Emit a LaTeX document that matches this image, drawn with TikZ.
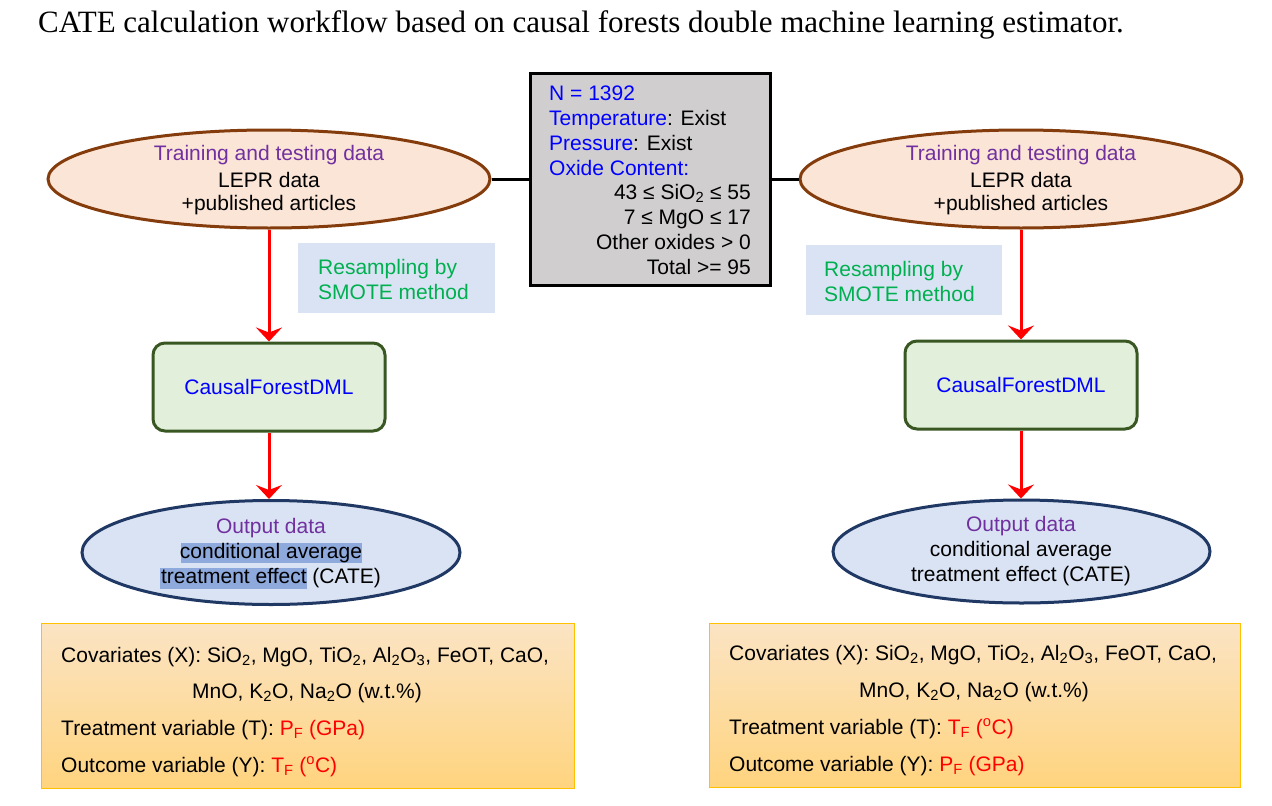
\documentclass[tikz,border=0pt]{standalone}
\usepackage{fontspec}
\setmainfont{Liberation Sans}
\newfontfamily\titlefont{Liberation Serif}
\usetikzlibrary{shapes.geometric,arrows.meta}
\definecolor{purp}{HTML}{7030A0}
\definecolor{grn}{HTML}{00B050}
\definecolor{bl}{RGB}{0,0,255}
\definecolor{rd}{RGB}{255,0,0}
\definecolor{peach}{HTML}{FBE5D6}
\definecolor{brown}{HTML}{843C0C}
\definecolor{ltblue}{HTML}{DAE3F3}
\definecolor{navy}{HTML}{203864}
\definecolor{ltgreen}{HTML}{E2EFDA}
\definecolor{dkgreen}{HTML}{385723}
\definecolor{grayfill}{HTML}{D0CECE}
\definecolor{ortop}{HTML}{FBE4C4}
\definecolor{orbot}{HTML}{FFD47F}
\definecolor{orline}{HTML}{FFC000}
\definecolor{hl}{HTML}{8EA9DB}
\newcommand{\sbs}[1]{\textsubscript{#1}}
\newcommand{\sps}[1]{\textsuperscript{#1}}
\tikzset{
  txt/.style={font=\fontsize{21}{25}\selectfont, inner sep=0pt, align=center},
  dataell/.style={ellipse, draw=brown, fill=peach, line width=3pt, minimum width=442pt, minimum height=98pt, inner sep=0pt},
  outell/.style={ellipse, draw=navy, fill=ltblue, line width=3pt, minimum width=378pt, minimum height=104pt, inner sep=0pt},
  cfbox/.style={rectangle, rounded corners=12pt, draw=dkgreen, fill=ltgreen, line width=3pt, minimum width=232pt, minimum height=88pt, font=\fontsize{21}{25}\selectfont, text=bl},
  resbox/.style={rectangle, fill=ltblue, minimum width=197pt, minimum height=70pt, inner sep=0pt},
  condbox/.style={rectangle, draw=black, fill=grayfill, line width=3pt, minimum width=240pt, minimum height=212pt, inner sep=0pt},
  varbox/.style={rectangle, draw=orline, line width=1pt, top color=ortop, bottom color=orbot, minimum width=533pt, minimum height=165pt, inner sep=0pt},
  redarrow/.style={draw=rd, line width=3pt, -{Stealth[length=14pt,width=26pt,inset=5pt]}},
  link/.style={draw=black, line width=3pt},
}
\begin{document}
\begin{tikzpicture}[x=1pt,y=-1pt]
\useasboundingbox (0,0) rectangle (1272,806);
\fill[white] (0,0) rectangle (1272,806);

% title
\node[anchor=base west, inner sep=0pt, font=\titlefont\fontsize{31}{36}\selectfont] (title) at (38,32) {CATE calculation workflow based on causal forests double machine learning estimator.};

% central condition box
\node[condbox] (cond) at (650,179) {};
\node[txt, anchor=base west, text=bl] (c1) at (549,100) {N = 1392};
\node[txt, anchor=base west] (c2) at (549,125) {\textcolor{bl}{Temperature}: Exist};
\node[txt, anchor=base west] (c3) at (549,150) {\textcolor{bl}{Pressure}: Exist};
\node[txt, anchor=base west, text=bl] (c4) at (549,175) {Oxide Content:};
\node[txt, anchor=base east] (c5) at (751,199) {43 ≤ SiO\sbs{2} ≤ 55};
\node[txt, anchor=base east] (c6) at (751,224) {7 ≤ MgO ≤ 17};
\node[txt, anchor=base east] (c7) at (751,249) {Other oxides > 0};
\node[txt, anchor=base east] (c8) at (751,274) {Total >= 95};

% ===== left column =====
\node[dataell] (dL) at (269,179) {};
\node[txt, text=purp] (dL1) at (269,155) {Training and testing data};
\node[txt] (dL2) at (269,180) {LEPR data};
\node[txt] (dL3) at (269,205) {+published articles};

\node[resbox] (rL) at (396.5,277.5) {};
\node[txt, anchor=west, align=left, text=grn] (rLt) at (318,279) {Resampling by\\SMOTE method};

\node[cfbox] (cfL) at (269,387) {CausalForestDML};

\node[outell] (oL) at (271,552.5) {};
\fill[hl] (181,543) rectangle (362,563);
\fill[hl] (160,568) rectangle (307,589);
\node[txt, text=purp] (oL1) at (271,528) {Output data};
\node[txt] (oL2) at (271,553) {conditional average};
\node[txt] (oL3) at (271,578) {treatment effect (CATE)};

\node[varbox] (vL) at (307.5,705.5) {};
\node[txt, anchor=base west] (vL1) at (61,662) {Covariates (X): SiO\sbs{2}, MgO, TiO\sbs{2}, Al\sbs{2}O\sbs{3}, FeOT, CaO,};
\node[txt, anchor=base] (vL2) at (307,698) {MnO, K\sbs{2}O, Na\sbs{2}O (w.t.\%)};
\node[txt, anchor=base west] (vL3) at (61,735) {Treatment variable (T): \textcolor{rd}{P\sbs{F} (GPa)}};
\node[txt, anchor=base west] (vL4) at (61,772) {Outcome variable (Y): \textcolor{rd}{T\sbs{F} (\sps{o}C)}};

% ===== right column =====
\node[dataell] (dR) at (1021,179) {};
\node[txt, text=purp] (dR1) at (1021,155) {Training and testing data};
\node[txt] (dR2) at (1021,180) {LEPR data};
\node[txt] (dR3) at (1021,205) {+published articles};

\node[resbox, minimum height=70pt, minimum width=196pt] (rR) at (904,280) {};
\node[txt, anchor=west, align=left, text=grn] (rRt) at (824,281) {Resampling by\\SMOTE method};

\node[cfbox] (cfR) at (1021,385) {CausalForestDML};

\node[outell, minimum width=377pt, minimum height=103pt] (oR) at (1021.5,551.5) {};
\node[txt, text=purp] (oR1) at (1021,526) {Output data};
\node[txt] (oR2) at (1021,551) {conditional average};
\node[txt] (oR3) at (1021,576) {treatment effect (CATE)};

\node[varbox, minimum width=531pt, minimum height=164pt] (vR) at (974.5,705) {};
\node[txt, anchor=base west] (vR1) at (729,660) {Covariates (X): SiO\sbs{2}, MgO, TiO\sbs{2}, Al\sbs{2}O\sbs{3}, FeOT, CaO,};
\node[txt, anchor=base] (vR2) at (974,697) {MnO, K\sbs{2}O, Na\sbs{2}O (w.t.\%)};
\node[txt, anchor=base west] (vR3) at (729,734) {Treatment variable (T): \textcolor{rd}{T\sbs{F} (\sps{o}C)}};
\node[txt, anchor=base west] (vR4) at (729,771) {Outcome variable (Y): \textcolor{rd}{P\sbs{F} (GPa)}};

% connectors
\draw[link] (dL.east) -- (cond.west |- dL.east);
\draw[link] (cond.east |- dR.west) -- (dR.west);
\draw[redarrow] (dL.south) -- (cfL.north);
\draw[redarrow] (cfL.south) -- (oL.north -| cfL.south);
\draw[redarrow] (dR.south) -- (cfR.north);
\draw[redarrow] (cfR.south) -- (oR.north -| cfR.south);
\end{tikzpicture}
\end{document}
